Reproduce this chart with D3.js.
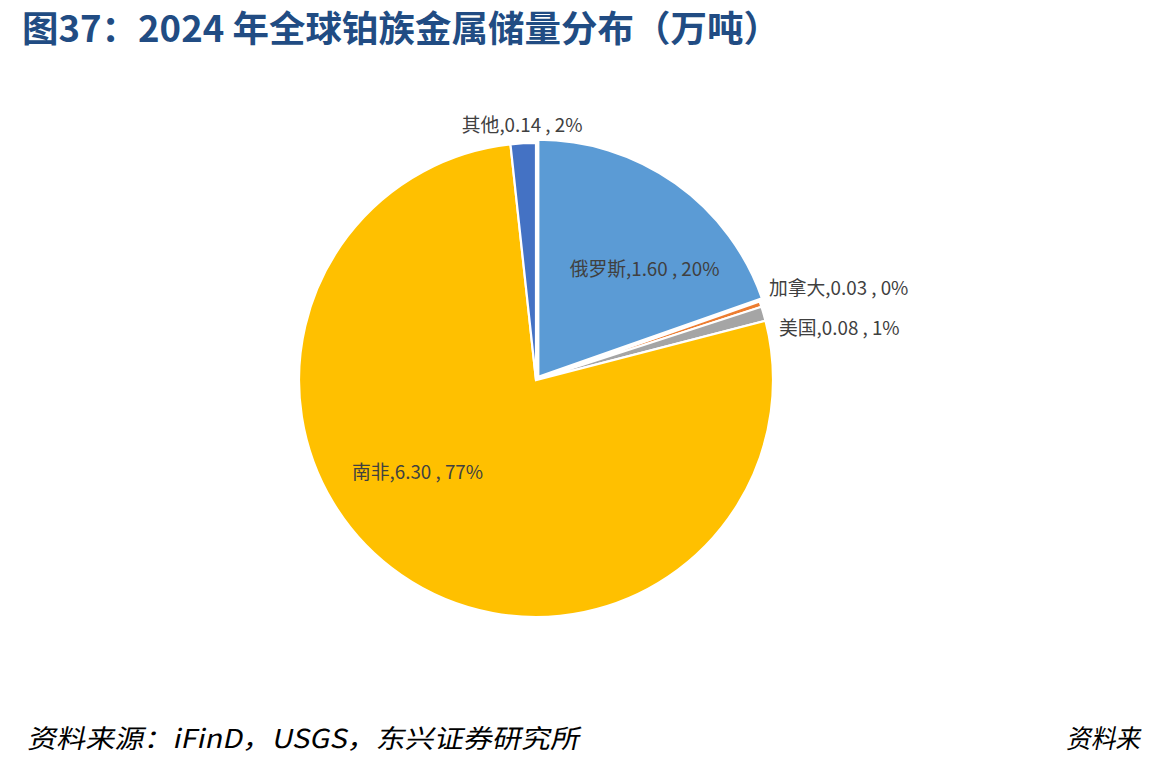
<!DOCTYPE html>
<html><head><meta charset="utf-8">
<script src="https://cdn.jsdelivr.net/npm/d3@7/dist/d3.min.js"></script>
<style>
html,body{margin:0;padding:0;background:#fff;}
svg{display:block;}
</style></head>
<body>
<svg id="chart" width="1149" height="767"></svg>
<script>
const categories = ["俄罗斯", "加拿大", "美国", "南非", "其他"];
const values = [1.60, 0.03, 0.08, 6.30, 0.14];
const percentLabels = ["20%", "0%", "1%", "77%", "2%"];
const colors = ["#5B9BD5", "#ED7D31", "#A5A5A5", "#FFC000", "#4472C4"];
const titleText = "图37：2024 年全球铂族金属储量分布（万吨）";
const sourceText = "资料来源：iFinD，USGS，东兴证券研究所";
const sourceRight = "资料来";

const svg = d3.select("#chart");
const cx = 536, cy = 380, R = 237;
const cjk = "'Noto Sans CJK SC','Noto Sans',sans-serif";

// title
svg.append("text")
  .attr("x", 22).attr("y", 42)
  .attr("font-family", "'Noto Sans CJK SC',sans-serif")
  .attr("font-weight", "bold")
  .attr("font-size", 36)
  .attr("fill", "#214C83")
  .attr("textLength", 758)
  .attr("lengthAdjust", "spacingAndGlyphs")
  .text(titleText);

const data = categories.map((c, i) => ({name: c, value: values[i], pct: percentLabels[i], color: colors[i]}));
const pie = d3.pie().sort(null).value(d => d.value);
const arcs = pie(data);
const arc = d3.arc().innerRadius(0).outerRadius(R);

const g = svg.append("g").attr("transform", `translate(${cx},${cy})`);

const explode = {"俄罗斯": 4};
g.selectAll("path.slice").data(arcs).enter().append("path")
  .attr("class", "slice")
  .attr("d", arc)
  .attr("fill", d => d.data.color)
  .attr("stroke", "#fff")
  .attr("stroke-width", 2.2)
  .attr("transform", d => {
    const e = explode[d.data.name] || 0;
    const a = (d.startAngle + d.endAngle) / 2;
    return `translate(${e * Math.sin(a)},${-e * Math.cos(a)})`;
  });

// label placement rules (polar offsets relative to each slice)
const placement = {
  "俄罗斯": {r: 154, da: 9.5, anchor: "middle", dx: 0, dy: -3},
  "加拿大": {r: 247, da: 0, anchor: "start", dx: -1, dy: -14},
  "美国": {r: 250, da: 0, anchor: "start", dx: 3, dy: 16},
  "南非": {r: 149, da: 18, anchor: "middle", dx: 0, dy: 0},
  "其他": {r: 257, da: 0, anchor: "middle", dx: 0, dy: 0}
};

g.selectAll("text.lbl").data(arcs).enter().append("text")
  .attr("class", "lbl")
  .each(function(d) {
    const p = placement[d.data.name];
    const a = (d.startAngle + d.endAngle) / 2 + p.da * Math.PI / 180;
    const x = p.r * Math.sin(a) + p.dx;
    const y = -p.r * Math.cos(a) + p.dy;
    d3.select(this).attr("x", x).attr("y", y).attr("text-anchor", p.anchor);
  })
  .attr("dominant-baseline", "central")
  .attr("font-family", cjk)
  .attr("font-size", 18.8)
  .attr("fill", "#404040")
  .text(d => `${d.data.name},${d3.format(".2f")(d.data.value)} , ${d.data.pct}`);

// source
svg.append("text")
  .attr("transform", "translate(27,748) skewX(-12)")
  .attr("font-family", cjk)
  .attr("font-size", 26)
  .attr("fill", "#000")
  .attr("textLength", 552)
  .attr("lengthAdjust", "spacingAndGlyphs")
  .text(sourceText);
svg.append("text")
  .attr("transform", "translate(1066,748) skewX(-12)")
  .attr("font-family", cjk)
  .attr("font-size", 26)
  .attr("fill", "#000")
  .attr("textLength", 74)
  .attr("lengthAdjust", "spacingAndGlyphs")
  .text(sourceRight);
</script>
</body></html>
